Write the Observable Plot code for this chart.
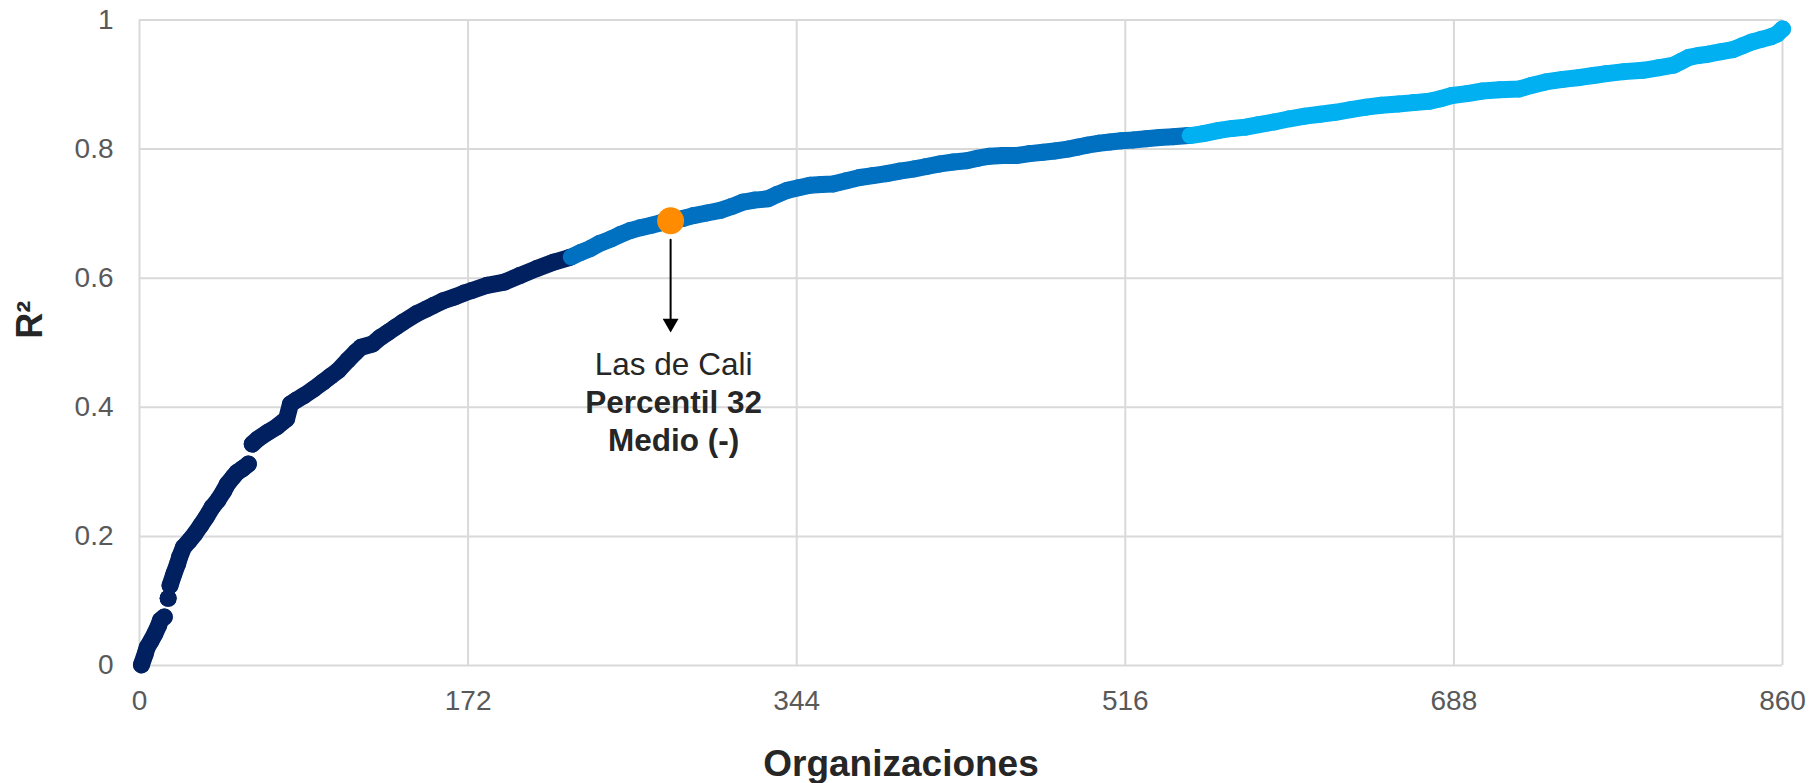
<!DOCTYPE html>
<html>
<head>
<meta charset="utf-8">
<script src="https://cdn.jsdelivr.net/npm/d3@7"></script>
<script src="https://cdn.jsdelivr.net/npm/@observablehq/plot@0.6"></script>
<style>
  html, body { margin: 0; padding: 0; background: #ffffff; }
  #chart { width: 1812px; height: 783px; }
</style>
</head>
<body>
<div id="chart"></div>
<script>
// ---- Data ----
// Organization rank (sorted by R²)
const organizaciones = [
  1, 3, 4, 6, 8, 10, 11, 13,
  15,
  16, 18, 20, 21, 23, 26, 29, 32, 35, 38, 41, 44, 46, 49, 51, 54, 57,
  59, 62, 67, 72, 77, 79, 82, 86, 91, 96, 100, 104, 109, 113, 116, 122, 126, 130, 134, 138,
  145, 150, 154, 159, 165, 170, 174, 182, 191, 199, 208, 217, 225,
  226, 231, 236, 241, 247, 252, 257, 262, 268, 273, 279, 285, 290, 297, 304, 310, 316, 322,
  329, 334, 339, 345, 351, 357, 363, 370, 377, 384, 391, 398, 405, 412, 419, 426, 433, 439,
  445, 452, 459, 466, 473, 479, 486, 491, 496, 502, 508, 514, 520, 527, 534, 541, 549,
  550, 557, 565, 572, 579, 586, 594, 602, 610, 618, 626, 634, 642, 650, 659, 667, 675, 681,
  687, 695, 703, 712, 722, 729, 736, 745, 754, 761, 768, 777, 787, 795, 803, 807, 811, 816,
  821, 828, 834, 839, 844, 849, 854, 857, 860
];
// R² of each organization
const r2Valores = [
  0.001, 0.018, 0.028, 0.038, 0.049, 0.062, 0.070, 0.075,
  0.104,
  0.124, 0.142, 0.158, 0.168, 0.183, 0.193, 0.204, 0.217, 0.230, 0.245, 0.256, 0.270, 0.281, 0.292, 0.299, 0.305, 0.312,
  0.343, 0.351, 0.361, 0.370, 0.382, 0.405, 0.411, 0.418, 0.428, 0.439, 0.448, 0.457, 0.473, 0.485, 0.493, 0.498, 0.508, 0.516, 0.524, 0.532,
  0.545, 0.552, 0.558, 0.565, 0.571, 0.577, 0.581, 0.589, 0.594, 0.604, 0.615, 0.625, 0.632,
  0.633, 0.640, 0.646, 0.654, 0.661, 0.668, 0.674, 0.678, 0.682, 0.686, 0.689, 0.693, 0.697, 0.701, 0.705, 0.711, 0.718, 0.721,
  0.723, 0.730, 0.736, 0.740, 0.744, 0.745, 0.746, 0.751, 0.756, 0.759, 0.762, 0.766, 0.769, 0.773, 0.777, 0.780, 0.782, 0.786,
  0.789, 0.790, 0.790, 0.793, 0.795, 0.797, 0.800, 0.803, 0.806, 0.809, 0.811, 0.813, 0.814, 0.816, 0.818, 0.819, 0.821,
  0.821, 0.824, 0.829, 0.832, 0.834, 0.838, 0.842, 0.847, 0.851, 0.854, 0.857, 0.861, 0.865, 0.868, 0.870, 0.872, 0.874, 0.878,
  0.883, 0.886, 0.890, 0.892, 0.893, 0.899, 0.904, 0.908, 0.911, 0.914, 0.917, 0.920, 0.922, 0.926, 0.930, 0.936, 0.942, 0.945,
  0.947, 0.951, 0.954, 0.960, 0.966, 0.970, 0.974, 0.978, 0.986
];
// Continuous runs of dots (where the reference shows small gaps)
const tramos = [
  1, 1, 1, 1, 1, 1, 1, 1,
  2,
  3, 3, 3, 3, 3, 3, 3, 3, 3, 3, 3, 3, 3, 3, 3, 3, 3,
  4, 4, 4, 4, 4, 4, 4, 4, 4, 4, 4, 4, 4, 4, 4, 4, 4, 4, 4, 4,
  4, 4, 4, 4, 4, 4, 4, 4, 4, 4, 4, 4, 4,
  5, 5, 5, 5, 5, 5, 5, 5, 5, 5, 5, 5, 5, 5, 5, 5, 5, 5,
  5, 5, 5, 5, 5, 5, 5, 5, 5, 5, 5, 5, 5, 5, 5, 5, 5, 5,
  5, 5, 5, 5, 5, 5, 5, 5, 5, 5, 5, 5, 5, 5, 5, 5, 5,
  6, 6, 6, 6, 6, 6, 6, 6, 6, 6, 6, 6, 6, 6, 6, 6, 6, 6,
  6, 6, 6, 6, 6, 6, 6, 6, 6, 6, 6, 6, 6, 6, 6, 6, 6, 6,
  6, 6, 6, 6, 6, 6, 6, 6, 6
];
// Groups: first rank of each group
const grupos = ["Bajo", "Medio", "Alto"];
const inicioGrupo = [0, 226, 550];
const coloresGrupo = ["#002060", "#0070C0", "#00B0F0"];

// Highlighted organization
const destacadoNombre = "Las de Cali";
const destacadoDetalle = ["Percentil 32", "Medio (-)"];
const destacadoOrg = 278;
const destacadoR2 = 0.689;
const flechaHastaR2 = 0.516;

// Axes
const xTicks = [0, 172, 344, 516, 688, 860];
const yTicks = [0, 0.2, 0.4, 0.6, 0.8, 1];
const yTickLabels = ["0", "0.2", "0.4", "0.6", "0.8", "1"];
const xTitulo = "Organizaciones";
const yTitulo = "R²";

// ---- Build table ----
function grupoDe(org) {
  let g = 0;
  for (let i = 0; i < inicioGrupo.length; i++) if (org >= inicioGrupo[i]) g = i;
  return grupos[g];
}
const datos = organizaciones.map((o, i) => ({
  org: o, r2: r2Valores[i], tramo: tramos[i], grupo: grupoDe(o)
}));
const destacado = [{
  org: destacadoOrg, r2: destacadoR2, fin: flechaHastaR2,
  nombre: destacadoNombre, detalle: destacadoDetalle.join("\n")
}];

const font = "'Liberation Sans', Arial, Helvetica, sans-serif";
const grid = {stroke: "#d9d9d9", strokeOpacity: 1, strokeWidth: 2};

const chart = Plot.plot({
  width: 1812,
  height: 783,
  marginLeft: 139,
  marginRight: 30,
  marginTop: 19.5,
  marginBottom: 118,
  style: {fontFamily: font, background: "#ffffff", color: "#595959", overflow: "visible"},
  x: {domain: [0, 860]},
  y: {domain: [0, 1]},
  color: {domain: grupos, range: coloresGrupo},
  marks: [
    Plot.gridX(xTicks, grid),
    Plot.gridY(yTicks, grid),
    Plot.axisX(xTicks, {tickSize: 0, tickPadding: 25, fontSize: 28, color: "#595959", label: null}),
    Plot.axisY(yTicks, {tickSize: 0, tickPadding: 26, fontSize: 28, color: "#595959", label: null,
      tickFormat: (d) => yTickLabels[yTicks.indexOf(d)]}),
    Plot.line(datos, {x: "org", y: "r2", z: "tramo", stroke: "grupo", strokeWidth: 17,
      strokeLinecap: "round", strokeLinejoin: "round"}),
    Plot.dot(datos, {x: "org", y: "r2", fill: "grupo", r: 8.5, stroke: null}),
    // Annotation arrow
    Plot.arrow(destacado, {x: "org", y1: "r2", y2: "fin", insetStart: 19, insetEnd: 9,
      headLength: 0, stroke: "#000000", strokeWidth: 2}),
    Plot.dot(destacado, {x: "org", y: "fin", symbol: "triangle", r: 5.9, rotate: 180,
      fill: "#000000", stroke: null, dy: -9.2}),
    Plot.dot(destacado, {x: "org", y: "r2", r: 13.5, fill: "#FF8C00", stroke: null}),
    Plot.text(destacado, {x: "org", y: "r2", text: "nombre", dx: 3, dy: 154.6,
      lineAnchor: "bottom", fontSize: 31.5, fill: "#262626"}),
    Plot.text(destacado, {x: "org", y: "r2", text: "detalle", dx: 3, dy: 230.6,
      lineAnchor: "bottom", lineHeight: 1.216, fontSize: 31.5, fontWeight: "bold", fill: "#262626"}),
    // Axis titles
    Plot.text([xTitulo], {text: (d) => d, frameAnchor: "bottom", dx: -60, dy: 110,
      lineAnchor: "bottom", fontSize: 37, fontWeight: "bold", fill: "#262626"}),
    Plot.text([yTitulo], {text: (d) => d, frameAnchor: "left", dx: -109, dy: -4,
      rotate: -90, fontSize: 36, fontWeight: "bold", fill: "#262626"})
  ]
});
document.getElementById("chart").appendChild(chart);
</script>
</body>
</html>
